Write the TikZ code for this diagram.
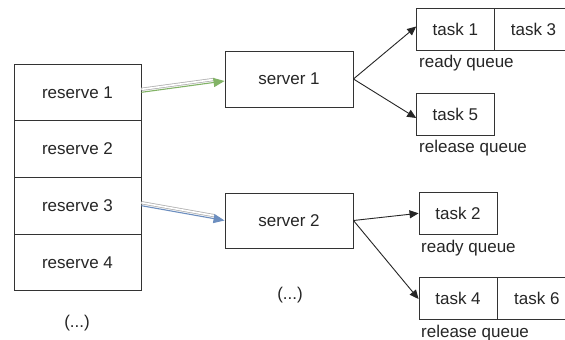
\documentclass[tikz,border=0pt]{standalone}
\usepackage{fontspec}
\setmainfont{Liberation Sans}
\usetikzlibrary{arrows.meta}
\definecolor{linkgreen}{HTML}{82B366}
\definecolor{linkblue}{HTML}{6C8EBF}
\begin{document}
\begin{tikzpicture}[x=1pt,y=-1pt,
  box/.style={draw=black!80,line width=0.9pt,fill=white,inner sep=0pt,
    font=\fontsize{17}{20}\selectfont,text=black!85},
  lbl/.style={anchor=west,inner sep=0pt,font=\fontsize{17}{20}\selectfont,text=black!85},
  link/.style={draw=black!85,line width=0.9pt,-{Triangle[length=9pt,width=8pt]}},
  shadowline/.style={black!30,line width=0.8pt,double=white,double distance=1.6pt,shorten >=10pt},
  txt/.style={font=\fontsize{17}{20}\selectfont,text=black!85}]
\clip (0,0) rectangle (565,340);
\fill[white] (0,0) rectangle (565,340);

% reserve stack
\node[box,minimum width=127pt,minimum height=56.7pt] (r1) at (77.5,92.3) {reserve 1};
\node[box,minimum width=127pt,minimum height=56.7pt] (r2) at (77.5,149) {reserve 2};
\node[box,minimum width=127pt,minimum height=56.7pt] (r3) at (77.5,205.7) {reserve 3};
\node[box,minimum width=127pt,minimum height=56.7pt] (r4) at (77.5,262.3) {reserve 4};
\node[txt] (rdots) at (77,323) {(...)};

% servers
\node[box,minimum width=128pt,minimum height=56pt] (s1) at (289,79) {server 1};
\node[box,minimum width=128pt,minimum height=55pt] (s2) at (289,220.5) {server 2};
\node[txt] (sdots) at (290,295) {(...)};

% queues of server 1
\node[box,minimum width=77.3pt,minimum height=42.4pt] (t1) at (455.3,29.5) {task 1};
\node[box,minimum width=77.3pt,minimum height=42.4pt,anchor=west] (t3) at (t1.east) {task 3};
\node[lbl] (rq1) at (419,63) {ready queue};
\node[box,minimum width=77.3pt,minimum height=42pt] (t5) at (455.3,114) {task 5};
\node[lbl] (lq1) at (419,148) {release queue};

% queues of server 2
\node[box,minimum width=78pt,minimum height=41.3pt] (t2) at (458,213.3) {task 2};
\node[lbl] (rq2) at (421,248) {ready queue};
\node[box,minimum width=78pt,minimum height=42pt] (t4) at (458,298) {task 4};
\node[box,minimum width=78pt,minimum height=42pt,anchor=west] (t6) at (t4.east) {task 6};
\node[lbl] (lq2) at (421,333) {release queue};

% reserve -> server links (coloured line over a grey double shadow)
\coordinate (g0) at (r1.east);
\coordinate (g1) at ([yshift=-2pt]s1.west);
\draw[shadowline] ([yshift=3pt]g0) -- ([yshift=3pt]g1);
\draw[linkgreen,line width=1.1pt,-{Triangle[length=11pt,width=9pt]}] (g0) -- (g1);

\coordinate (b0) at (r3.east);
\coordinate (b1) at (s2.west);
\draw[shadowline] ([yshift=3pt]b0) -- ([yshift=3pt]b1);
\draw[linkblue,line width=1.1pt,-{Triangle[length=11pt,width=9pt]}] (b0) -- (b1);

% server -> queue links
\draw[link] (s1.east) -- ([yshift=3pt]t1.west);
\draw[link] (s1.east) -- ([yshift=-4pt]t5.west);
\draw[link] (s2.east) -- (t2.west);
\draw[link] (s2.east) -- ([yshift=-1pt]t4.west);
\end{tikzpicture}
\end{document}
